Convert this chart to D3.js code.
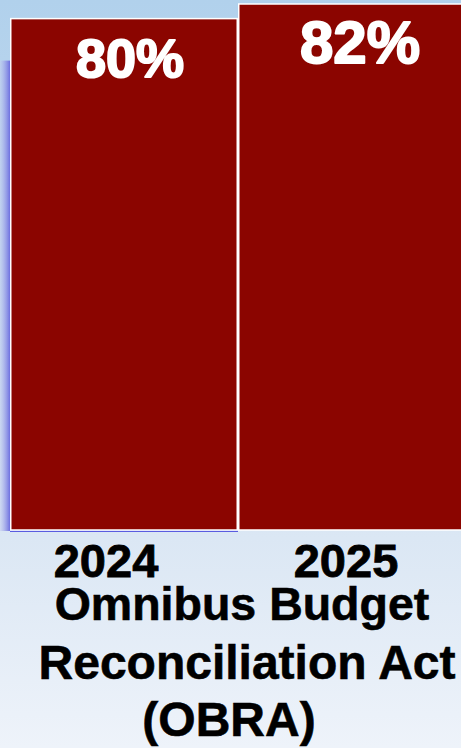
<!DOCTYPE html>
<html><head><meta charset="utf-8">
<script src="https://cdn.jsdelivr.net/npm/d3@7"></script>
<style>html,body{margin:0;padding:0;overflow:hidden;}svg{display:block;}</style>
</head><body>
<svg id="chart" width="461" height="748"></svg>
<script>
const categories = ["2024", "2025"];
const values = [80, 82];
const valueLabels = ["80%", "82%"];
const titleLines = ["Omnibus Budget", "Reconciliation Act", "(OBRA)"];

const svg = d3.select("#chart");
const W = 461, H = 748;
const font = "'Liberation Sans', Arial, Helvetica, sans-serif";

const defs = svg.append("defs");
const bg = defs.append("linearGradient").attr("id","bg").attr("x1",0).attr("y1",0).attr("x2",0).attr("y2",1);
bg.append("stop").attr("offset","0%").attr("stop-color","#b1d1ec");
bg.append("stop").attr("offset","45%").attr("stop-color","#c8dcf0");
bg.append("stop").attr("offset","72%").attr("stop-color","#dbe7f4");
bg.append("stop").attr("offset","100%").attr("stop-color","#eef3fa");
const sh = defs.append("linearGradient").attr("id","sh").attr("x1",0).attr("y1",0).attr("x2",1).attr("y2",0);
sh.append("stop").attr("offset","0%").attr("stop-color","#c4cdf0").attr("stop-opacity",0.5);
sh.append("stop").attr("offset","100%").attr("stop-color","#6d6fe0");

svg.append("rect").attr("width",W).attr("height",H).attr("fill","url(#bg)");

const x = d3.scaleBand().domain(categories).range([10, 466]).padding(0);
const y = d3.scaleLinear().domain([10, 82]).range([530, 4]);

// shadow on left edge of first bar
svg.append("rect")
  .attr("x", 0).attr("y", y(values[0]) + 42)
  .attr("width", x(categories[0]))
  .attr("height", y.range()[0] - y(values[0]) - 42 + 1)
  .attr("fill","url(#sh)");
svg.append("rect")
  .attr("x", x(categories[0])).attr("y", y.range()[0] + 0.5)
  .attr("width", x.bandwidth()).attr("height", 1.5)
  .attr("fill","#5a5ce0");

svg.selectAll("rect.bar").data(values).enter().append("rect")
  .attr("class","bar")
  .attr("x", (d,i) => x(categories[i]) + 0.75)
  .attr("y", d => y(d))
  .attr("width", x.bandwidth() - 1.5)
  .attr("height", d => y.range()[0] - y(d))
  .attr("fill","#8b0500")
  .attr("stroke","#ffffff")
  .attr("stroke-width",1.5);

const labelSize = [54, 60];
const labelDx = [6, 8];
const labelDy = [58, 59];
svg.selectAll("text.val").data(values).enter().append("text")
  .attr("class","val")
  .attr("x", (d,i) => x(categories[i]) + x.bandwidth()/2 + labelDx[i])
  .attr("y", (d,i) => y(d) + labelDy[i])
  .attr("text-anchor","middle")
  .attr("font-family", font).attr("font-weight","bold")
  .attr("font-size", (d,i) => labelSize[i] + "px")
  .attr("fill","#ffffff").attr("stroke","#ffffff").attr("stroke-width",2)
  .attr("stroke-linejoin","round")
  .text((d,i) => valueLabels[i]);

const catDx = [-18, -6];
svg.selectAll("text.cat").data(categories).enter().append("text")
  .attr("class","cat")
  .attr("x", (d,i) => x(d) + x.bandwidth()/2 + catDx[i])
  .attr("y", 577)
  .attr("text-anchor","middle")
  .attr("font-family", font).attr("font-weight","bold")
  .attr("font-size","47px").attr("fill","#000000")
  .attr("stroke","#000").attr("stroke-width",0.8)
  .text(d => d);

const titleX = [242, 247, 229];
const titleY = [620, 679, 736];
const titleSize = [46.5, 48, 48];
svg.selectAll("text.title").data(titleLines).enter().append("text")
  .attr("class","title")
  .attr("x", (d,i) => titleX[i])
  .attr("y", (d,i) => titleY[i])
  .attr("text-anchor","middle")
  .attr("font-family", font).attr("font-weight","bold")
  .attr("font-size", (d,i) => titleSize[i] + "px").attr("fill","#000000")
  .attr("stroke","#000").attr("stroke-width",0.6)
  .text(d => d);
</script>
</body></html>
